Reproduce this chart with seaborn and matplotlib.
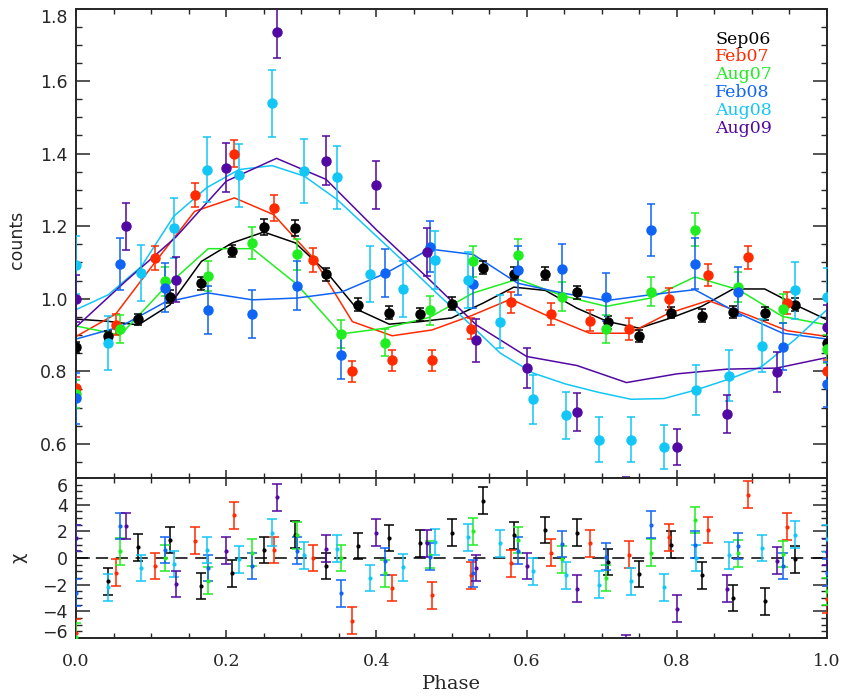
import numpy as np
import matplotlib
matplotlib.use("Agg")
import matplotlib.pyplot as plt
from matplotlib.ticker import MultipleLocator
import seaborn as sns

# --- data ---
SERIES = ["Sep06", "Feb07", "Aug07", "Feb08", "Aug08", "Aug09"]
COLORS = ["#000000", "#ff2a00", "#20ee20", "#0f64f5", "#12c6f6", "#5208a2"]

PHASE_SEP06 = [0.0, 0.042, 0.083, 0.125, 0.167, 0.208, 0.25, 0.292, 0.333, 0.375, 0.417, 0.458,
               0.5, 0.542, 0.583, 0.625, 0.667, 0.708, 0.75, 0.792, 0.833, 0.875, 0.917, 0.958, 1.0]
COUNTS_SEP06 = [0.866, 0.898, 0.944, 1.006, 1.043, 1.131, 1.198, 1.194, 1.068, 0.984, 0.962, 0.957,
                0.986, 1.086, 1.069, 1.069, 1.018, 0.935, 0.898, 0.962, 0.953, 0.964, 0.960, 0.984, 0.879]
ERR_SEP06 = [0.015, 0.012, 0.015, 0.017, 0.018, 0.017, 0.021, 0.022, 0.018, 0.017, 0.017, 0.017,
             0.018, 0.018, 0.018, 0.018, 0.018, 0.018, 0.017, 0.016, 0.018, 0.016, 0.018, 0.018, 0.018]
MODEL_SEP06 = [0.944, 0.938, 0.928, 0.983, 1.103, 1.154, 1.184, 1.154, 1.075, 0.970, 0.930, 0.937,
               0.947, 0.988, 1.032, 1.023, 0.974, 0.937, 0.919, 0.947, 0.979, 1.027, 1.027, 0.983, 0.942]
CHI_SEP06 = [np.nan, -1.75, 0.8, 1.35, -2.1, -1.15, 0.6, 1.75, -0.6, 0.9, 1.5, 1.1,
             1.9, 4.3, 1.7, 2.1, 1.9, -0.3, -1.2, 1.0, -1.3, -3.0, -3.25, -0.1, np.nan]

PHASE_FEB07 = [0.0, 0.053, 0.105, 0.158, 0.211, 0.263, 0.316, 0.368, 0.421, 0.474,
               0.526, 0.579, 0.632, 0.684, 0.737, 0.789, 0.842, 0.895, 0.947, 1.0]
COUNTS_FEB07 = [0.753, 0.928, 1.112, 1.287, 1.400, 1.250, 1.108, 0.800, 0.830, 0.830,
                0.917, 0.990, 0.958, 0.940, 0.916, 1.000, 1.066, 1.114, 0.988, 0.800]
ERR_FEB07 = [0.030, 0.029, 0.034, 0.033, 0.037, 0.036, 0.033, 0.029, 0.028, 0.028,
             0.029, 0.030, 0.030, 0.030, 0.030, 0.030, 0.031, 0.031, 0.030, 0.030]
MODEL_FEB07 = [0.896, 0.958, 1.100, 1.241, 1.278, 1.232, 1.112, 0.937, 0.898, 0.914,
               0.953, 0.999, 0.949, 0.905, 0.905, 0.960, 0.995, 0.955, 0.912, 0.896]
CHI_FEB07 = [-5.6, -1.1, -0.6, 1.3, 3.2, 0.6, 0.0, -4.7, -2.25, -2.8,
             -1.3, -0.4, 0.4, 1.1, 0.25, 1.55, 2.1, 4.75, 2.35, -3.1]

PHASE_17 = [0.0, 0.059, 0.118, 0.176, 0.235, 0.294, 0.353, 0.412, 0.471,
            0.529, 0.588, 0.647, 0.706, 0.765, 0.824, 0.882, 0.941, 1.0]
COUNTS_AUG07 = [0.738, 0.916, 1.048, 1.062, 1.154, 1.122, 0.903, 0.879, 0.968,
                1.103, 1.120, 1.006, 0.916, 1.020, 1.190, 1.032, 0.972, 0.862]
ERR_AUG07 = [0.038, 0.039, 0.040, 0.041, 0.045, 0.043, 0.038, 0.038, 0.040,
             0.043, 0.044, 0.040, 0.038, 0.040, 0.045, 0.041, 0.040, 0.038]
MODEL_AUG07 = [0.925, 0.900, 1.030, 1.138, 1.138, 1.040, 0.903, 0.919, 0.949,
               1.016, 1.054, 1.009, 0.979, 1.002, 1.060, 1.025, 0.951, 0.928]
CHI_AUG07 = [-5.9, 0.5, 0.0, -1.7, 0.4, 1.7, 0.0, -1.15, 0.25,
             2.0, 1.35, -0.1, -1.5, 0.4, 2.85, 0.35, 0.3, -2.5]

COUNTS_FEB08 = [0.726, 1.096, 1.031, 0.968, 0.959, 1.036, 0.844, 1.071, 1.143,
                1.041, 1.078, 1.082, 1.006, 1.190, 1.097, 1.020, 0.868, 0.765]
ERR_FEB08 = [0.070, 0.071, 0.068, 0.066, 0.066, 0.068, 0.064, 0.067, 0.070,
             0.066, 0.068, 0.068, 0.066, 0.072, 0.070, 0.068, 0.064, 0.062]
MODEL_FEB08 = [0.889, 0.923, 0.990, 1.016, 0.997, 1.002, 1.018, 1.070, 1.137,
               1.122, 1.043, 1.016, 0.995, 1.011, 1.025, 0.960, 0.905, 0.889]
CHI_FEB08 = [-2.6, 2.4, 0.6, -0.75, -0.6, 0.55, -2.65, -0.25, 0.1,
             -1.15, 0.55, 1.05, 0.1, 2.5, 1.0, 0.9, -0.6, -1.1]

PHASE_AUG08 = [0.0, 0.043, 0.087, 0.130, 0.174, 0.217, 0.261, 0.304, 0.348, 0.391, 0.435, 0.478,
               0.522, 0.565, 0.609, 0.652, 0.696, 0.739, 0.783, 0.826, 0.870, 0.913, 0.957, 1.0]
COUNTS_AUG08 = [1.094, 0.879, 1.071, 1.195, 1.356, 1.340, 1.539, 1.352, 1.335, 1.068, 1.027, 1.108,
                1.052, 0.937, 0.723, 0.679, 0.612, 0.612, 0.591, 0.749, 0.788, 0.871, 1.023, 1.006]
ERR_AUG08 = [0.080, 0.074, 0.078, 0.082, 0.089, 0.086, 0.092, 0.088, 0.087, 0.078, 0.077, 0.080,
             0.078, 0.074, 0.067, 0.065, 0.061, 0.062, 0.060, 0.068, 0.070, 0.074, 0.078, 0.078]
MODEL_AUG08 = [0.970, 1.011, 1.089, 1.227, 1.306, 1.356, 1.367, 1.338, 1.273, 1.190, 1.105, 1.020,
               0.935, 0.850, 0.795, 0.765, 0.742, 0.723, 0.725, 0.749, 0.779, 0.813, 0.887, 0.970]
CHI_AUG08 = [1.5, -2.2, -0.75, -0.45, 0.6, -0.1, 1.9, 0.2, 0.7, -1.5, -0.7, 1.2,
             1.55, 1.1, -1.0, -1.3, -2.0, -1.75, -2.2, 0.0, 0.2, 0.75, 1.75, 1.45]

PHASE_AUG09 = [0.0, 0.067, 0.133, 0.2, 0.267, 0.333, 0.4, 0.467,
               0.533, 0.6, 0.667, 0.733, 0.8, 0.867, 0.933, 1.0]
COUNTS_AUG09 = [1.000, 1.200, 1.052, 1.361, 1.734, 1.381, 1.313, 1.129,
                0.885, 0.809, 0.687, 0.450, 0.592, 0.682, 0.797, 0.923]
ERR_AUG09 = [0.065, 0.065, 0.062, 0.068, 0.070, 0.068, 0.066, 0.065,
             0.058, 0.056, 0.052, 0.060, 0.050, 0.052, 0.055, 0.060]
MODEL_AUG09 = [0.922, 1.050, 1.170, 1.324, 1.387, 1.329, 1.190, 1.060,
               0.928, 0.841, 0.816, 0.769, 0.793, 0.806, 0.809, 0.838]
CHI_AUG09 = [1.5, 2.4, -1.95, 0.55, 4.55, 0.7, 1.9, 1.1,
             -0.75, -0.6, -2.3, -6.8, -3.8, -2.3, -0.2, 0.45]

PHASES = [PHASE_SEP06, PHASE_FEB07, PHASE_17, PHASE_17, PHASE_AUG08, PHASE_AUG09]
COUNTS = [COUNTS_SEP06, COUNTS_FEB07, COUNTS_AUG07, COUNTS_FEB08, COUNTS_AUG08, COUNTS_AUG09]
ERRS = [ERR_SEP06, ERR_FEB07, ERR_AUG07, ERR_FEB08, ERR_AUG08, ERR_AUG09]
MODELS = [MODEL_SEP06, MODEL_FEB07, MODEL_AUG07, MODEL_FEB08, MODEL_AUG08, MODEL_AUG09]
CHIS = [CHI_SEP06, CHI_FEB07, CHI_AUG07, CHI_FEB08, CHI_AUG08, CHI_AUG09]

# --- style ---
sns.set_style("ticks")
plt.rcParams.update({
    "font.family": ["DejaVu Sans"],
    "axes.linewidth": 1.4,
    "xtick.direction": "in", "ytick.direction": "in",
    "xtick.top": True, "ytick.right": True,
    "xtick.major.width": 1.1, "ytick.major.width": 1.1,
    "xtick.minor.width": 1.0, "ytick.minor.width": 1.0,
    "xtick.major.size": 6, "xtick.minor.size": 3.5,
    "ytick.major.size": 10, "ytick.minor.size": 4.5,
})

fig = plt.figure(figsize=(8.46, 6.96), dpi=100)
ax1 = fig.add_axes([76 / 846, 1 - 478 / 696, 751 / 846, 469.5 / 696])
ax2 = fig.add_axes([76 / 846, 1 - 638 / 696, 751 / 846, 160 / 696])

for name, col, ph, ct, er, md, ch in zip(SERIES, COLORS, PHASES, COUNTS, ERRS, MODELS, CHIS):
    ax1.errorbar(ph, ct, yerr=er, fmt="o", color=col, ms=6.5, elinewidth=1.1,
                 capsize=3.2, capthick=1.1, zorder=3)
    sns.lineplot(x=ph, y=md, ax=ax1, color=col, lw=1.1, sort=False, estimator=None, zorder=2)
    ax2.errorbar(ph, ch, yerr=1.0, fmt="o", color=col, ms=2, elinewidth=1.1,
                 capsize=3.6, capthick=1.1, zorder=3)

ax2.axhline(0, color="black", lw=1.1, ls=(0, (8, 5)), zorder=1)

# top panel
ax1.set_xlim(0, 1)
ax1.set_ylim(0.506, 1.8)
ax1.set_yticks([0.6, 0.8, 1.0, 1.2, 1.4, 1.6, 1.8])
ax1.set_yticklabels(["0.6", "0.8", "1.0", "1.2", "1.4", "1.6", "1.8"])
ax1.yaxis.set_minor_locator(MultipleLocator(0.05))
ax1.xaxis.set_major_locator(MultipleLocator(0.2))
ax1.xaxis.set_minor_locator(MultipleLocator(0.05))
ax1.tick_params(axis="x", labelbottom=False)
ax1.tick_params(axis="y", labelsize=12.5, pad=6)
ax1.set_xlabel("")
ax1.set_ylabel("")
ax1.get_yticklabels()[-1].set_va("top")

# residual panel
ax2.set_xlim(0, 1)
ax2.set_ylim(-6, 6)
ax2.set_yticks([-6, -4, -2, 0, 2, 4, 6])
ax2.set_yticklabels(["\u22126", "\u22124", "\u22122", "0", "2", "4", "6"])
ax2.yaxis.set_minor_locator(MultipleLocator(0.5))
ax2.set_xticks([0.0, 0.2, 0.4, 0.6, 0.8, 1.0])
ax2.set_xticklabels(["0.0", "0.2", "0.4", "0.6", "0.8", "1.0"], family="DejaVu Serif")
ax2.xaxis.set_minor_locator(MultipleLocator(0.05))
ax2.tick_params(axis="x", labelsize=12.5, pad=11)
ax2.tick_params(axis="y", labelsize=12.5, pad=6)
ax2.get_yticklabels()[-1].set_va("top")
ax2.get_yticklabels()[0].set_va("baseline")

# legend as coloured text
for i, (name, col) in enumerate(zip(SERIES, COLORS)):
    ax1.text(0.851, 0.935 - i * 0.0383, name, color=col, transform=ax1.transAxes,
             family="DejaVu Serif", fontsize=12.5, va="center", ha="left")

fig.text(17 / 846, 1 - 240 / 696, "counts", rotation=90, ha="center", va="center", fontsize=12.5)
fig.text(18 / 846, 1 - 558 / 696, "\u03c7", rotation=90, ha="center", va="center", fontsize=13)
fig.text(451 / 846, 1 - 684 / 696, "Phase", ha="center", va="center",
         family="DejaVu Serif", fontsize=14)

fig.savefig("out.png", dpi=100, facecolor="white")
